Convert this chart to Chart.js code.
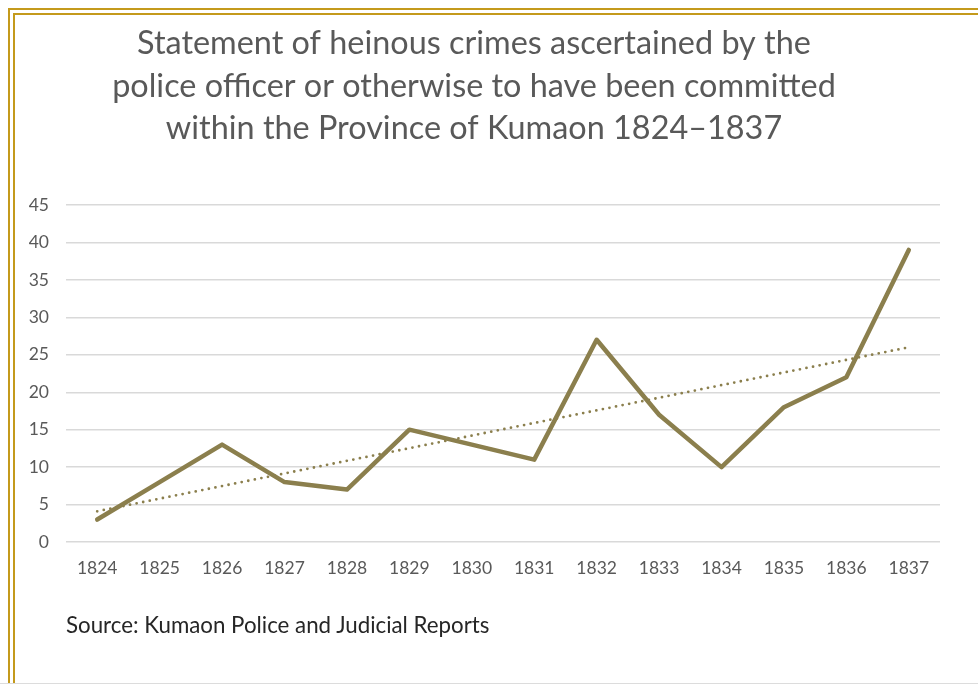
<!DOCTYPE html>
<html>
<head>
<meta charset="utf-8">
<script src="https://cdn.jsdelivr.net/npm/chart.js@4"></script>
<style>
  html, body { margin: 0; padding: 0; background: #fff; }
  #wrap { position: relative; width: 978px; height: 684px; overflow: hidden; }
  #crimeChart { position: absolute; left: 0; top: 0; }
  .gold { position: absolute; background: #c49a1c; }
  #source { position: absolute; left: 66px; top: 611px; font: 22.3px Lato, sans-serif; color: #262626; white-space: nowrap; }
  #bottomEdge { position: absolute; left: 0; right: 0; bottom: 0; height: 1px; background: #dcdcdc; }
</style>
</head>
<body>
<div id="wrap">
  <canvas id="crimeChart" width="978" height="684"></canvas>
  <div class="gold" style="left:8px; top:8px; right:0; height:2px;"></div>
  <div class="gold" style="left:13px; top:13px; right:0; height:2px;"></div>
  <div class="gold" style="left:8px; top:8px; bottom:0; width:2px;"></div>
  <div class="gold" style="left:13px; top:13px; bottom:0; width:2px;"></div>
  <div id="source">Source: Kumaon Police and Judicial Reports</div>
  <div id="bottomEdge"></div>
</div>
<script>
// ---- data ----
const years = ['1824', '1825', '1826', '1827', '1828', '1829', '1830', '1831', '1832', '1833', '1834', '1835', '1836', '1837'];
const crimes = [3, 8, 13, 8, 7, 15, 13, 11, 27, 17, 10, 18, 22, 39];
// dotted trend line, read at its two ends
const trendStart = 4.1;
const trendEnd = 26;
const titleLines = [
    'Statement of heinous crimes ascertained by the',
    'police officer or otherwise to have been committed',
    'within the Province of Kumaon 1824\u20131837'
];

const trend = years.map((y, i) => i === 0 ? trendStart : (i === years.length - 1 ? trendEnd : null));

const olive = '#8b7f4d';
const grey = '#595959';

const ctx = document.getElementById('crimeChart').getContext('2d');
new Chart(ctx, {
    type: 'line',
    data: {
        labels: years,
        datasets: [
            { label: 'Crimes', data: crimes, borderColor: olive, borderWidth: 4.5, pointRadius: 0, tension: 0, borderJoinStyle: 'round', borderCapStyle: 'round' },
            { label: 'Trend', data: trend, spanGaps: true, borderColor: olive, borderWidth: 2.8, borderDash: [0, 6.7], borderCapStyle: 'round', pointRadius: 0 }
        ]
    },
    options: {
        responsive: false,
        animation: false,
        layout: { padding: { left: 8, right: 38, top: 0, bottom: 0 } },
        plugins: {
            legend: { display: false },
            tooltip: { enabled: false },
            title: {
                display: true,
                text: titleLines,
                color: grey,
                font: { family: 'Lato', size: 32.4, weight: 'normal', lineHeight: 42.5 / 32.4 },
                padding: { top: 22.75, bottom: 54.75 }
            }
        },
        scales: {
            x: {
                offset: true,
                grid: { display: false },
                border: { display: false },
                ticks: { color: grey, font: { family: 'Lato', size: 17.5 }, padding: 8, maxRotation: 0 },
                afterFit: s => { s.height = 142; }
            },
            y: {
                min: 0, max: 45,
                grid: { color: '#d9d9d9', lineWidth: 1.4, drawTicks: false },
                border: { display: false },
                ticks: { stepSize: 5, color: grey, font: { family: 'Lato', size: 17.5 }, padding: 17 },
                afterFit: s => { s.width = 58; }
            }
        }
    }
});
</script>
</body>
</html>
